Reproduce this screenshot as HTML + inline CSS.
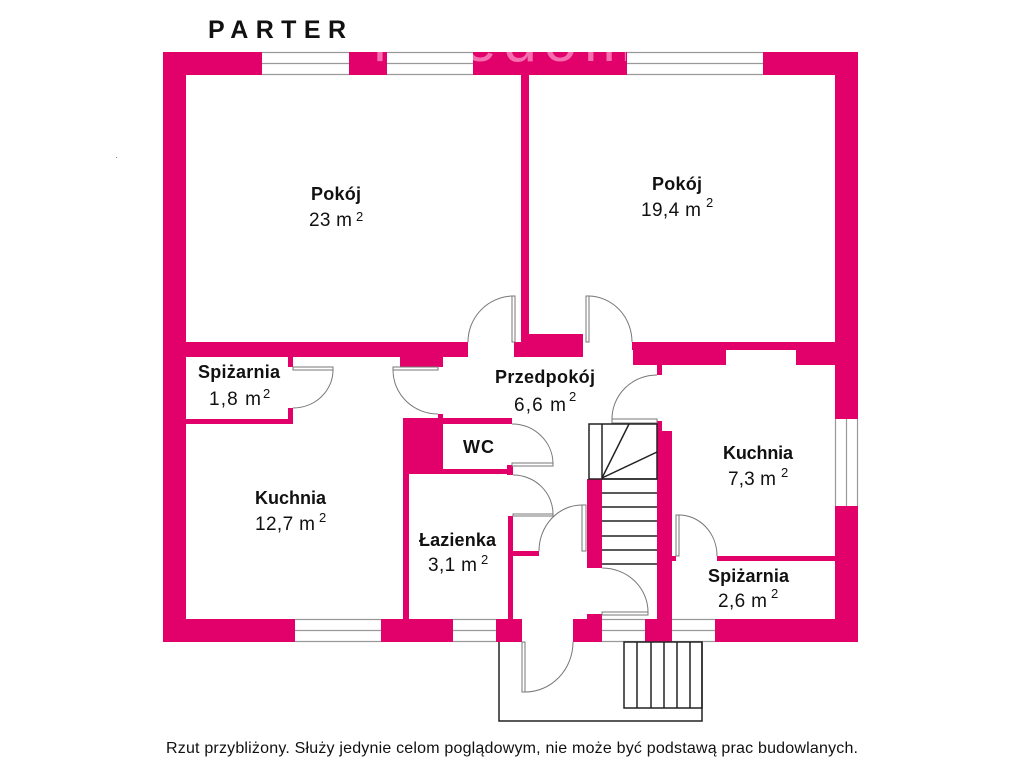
<!DOCTYPE html>
<html><head><meta charset="utf-8"><style>
html,body{margin:0;padding:0;background:#fff}
svg{display:block}
text{font-family:"Liberation Sans",sans-serif;fill:#111}
.b{font-weight:bold;font-size:18px}
.r{font-size:19px}
.s{font-size:13px}
.w rect{fill:#e2006a}
.win{fill:#fff;stroke:none}
.ml{stroke:#999;stroke-width:1.2}
.leaf{fill:#fff;stroke:#777;stroke-width:1}
.arc{fill:none;stroke:#777;stroke-width:1}
.k{stroke:#222;stroke-width:1.5;fill:none}
</style></head><body>
<svg width="1024" height="768" viewBox="0 0 1024 768" xmlns="http://www.w3.org/2000/svg">
<defs><clipPath id="wm"><rect x="349" y="52" width="38" height="22"/><rect x="473" y="52" width="153" height="22"/></clipPath></defs>
<rect width="1024" height="768" fill="#fff"/>
<text x="208" y="38" textLength="138" font-weight="bold" style="font-size:25px">PARTER</text>
<g class="w">
<!-- outer top -->
<rect x="163" y="52" width="99" height="23"/>
<rect x="349" y="52" width="38" height="23"/>
<rect x="473" y="52" width="154" height="23"/>
<rect x="763" y="52" width="95" height="23"/>
<!-- outer sides -->
<rect x="163" y="52" width="23" height="590"/>
<rect x="835" y="52" width="23" height="367"/>
<rect x="835" y="506" width="23" height="136"/>
<!-- outer bottom -->
<rect x="163" y="619" width="132" height="23"/>
<rect x="381" y="619" width="72" height="23"/>
<rect x="496" y="619" width="26" height="23"/>
<rect x="573" y="619" width="29" height="23"/>
<rect x="587" y="614" width="15" height="6"/>
<rect x="645" y="619" width="27" height="23"/>
<rect x="715" y="619" width="143" height="23"/>
<!-- central wall -->
<rect x="521" y="75" width="8" height="268"/>
<rect x="514" y="342" width="69" height="15"/>
<rect x="529" y="334" width="54" height="9"/>
<!-- left horizontal -->
<rect x="163" y="342" width="305" height="15"/>
<rect x="400" y="356" width="43" height="11"/>
<!-- right horizontal -->
<rect x="632" y="342" width="203" height="8"/>
<rect x="633" y="349" width="93" height="16"/>
<rect x="796" y="349" width="39" height="16"/>
<rect x="657" y="365" width="5" height="10"/>
<!-- spizarnia 1 -->
<rect x="288" y="357" width="5" height="10"/>
<rect x="288" y="408" width="5" height="16"/>
<rect x="186" y="419" width="107" height="5"/>
<!-- WC block -->
<rect x="403" y="418" width="40" height="56"/>
<rect x="438" y="414" width="5" height="5"/>
<rect x="443" y="418" width="69" height="6"/>
<rect x="443" y="469" width="69" height="5"/>
<rect x="507" y="465" width="6" height="10"/>
<!-- lazienka -->
<rect x="403" y="473" width="6" height="147"/>
<rect x="508" y="516" width="5" height="104"/>
<rect x="513" y="551" width="26" height="5"/>
<!-- stair walls -->
<rect x="587" y="479" width="15" height="89"/>
<rect x="657" y="421" width="5" height="12"/>
<rect x="657" y="431" width="15" height="188"/>
<!-- spizarnia 2 -->
<rect x="717" y="556" width="118" height="5"/>
<rect x="672" y="556" width="4" height="5"/>
</g>
<text x="372" y="61" clip-path="url(#wm)" style="font-size:60px;fill:#f56fb0" textLength="262">freedom</text>
<!-- windows -->
<g>
<rect class="win" x="262" y="52" width="87" height="23"/><path class="ml" d="M262 52.5H349M262 63.5H349M262 74.5H349"/>
<rect class="win" x="387" y="52" width="86" height="23"/><path class="ml" d="M387 52.5H473M387 63.5H473M387 74.5H473"/>
<rect class="win" x="627" y="52" width="136" height="23"/><path class="ml" d="M627 52.5H763M627 63.5H763M627 74.5H763"/>
<rect class="win" x="835" y="419" width="23" height="87"/><path class="ml" d="M835.5 419V506M846.5 419V506M857.5 419V506"/>
<rect class="win" x="295" y="619" width="86" height="23"/><path class="ml" d="M295 619.5H381M295 630.5H381M295 641.5H381"/>
<rect class="win" x="453" y="619" width="43" height="23"/><path class="ml" d="M453 619.5H496M453 630.5H496M453 641.5H496"/>
<rect class="win" x="602" y="619" width="43" height="23"/><path class="ml" d="M602 619.5H645M602 630.5H645M602 641.5H645"/>
<rect class="win" x="672" y="619" width="43" height="23"/><path class="ml" d="M672 619.5H715M672 630.5H715M672 641.5H715"/>
</g>
<!-- doors -->
<g>
<rect class="leaf" x="512" y="296" width="3" height="46"/><path class="arc" d="M512 296A46 46 0 0 0 468 342"/>
<rect class="leaf" x="586" y="296" width="3" height="46"/><path class="arc" d="M589 296A44 46 0 0 1 632 342"/>
<rect class="leaf" x="293" y="367" width="40" height="3"/><path class="arc" d="M333 370A40 38 0 0 1 293 408"/>
<rect class="leaf" x="393" y="367" width="45" height="3"/><path class="arc" d="M393 370A45 44 0 0 0 438 414"/>
<rect class="leaf" x="612" y="419" width="45" height="4"/><path class="arc" d="M612 419A45 44 0 0 1 657 375"/>
<rect class="leaf" x="512" y="463" width="41" height="3"/><path class="arc" d="M512 424A41 40 0 0 1 553 463"/>
<rect class="leaf" x="513" y="514" width="40" height="2"/><path class="arc" d="M513 475A40 39 0 0 1 553 514"/>
<rect class="leaf" x="582" y="505" width="4" height="46"/><path class="arc" d="M582 505A43 46 0 0 0 539 551"/>
<rect class="leaf" x="602" y="612" width="46" height="3"/><path class="arc" d="M602 568A46 44 0 0 1 648 612"/>
<rect class="leaf" x="676" y="515" width="3" height="41"/><path class="arc" d="M679 515A38 41 0 0 1 717 556"/>
<rect class="leaf" x="522" y="642" width="3" height="50"/><path class="arc" d="M525 692A48 50 0 0 0 573 642"/>
</g>
<!-- interior stairs -->
<g class="k">
<rect x="589" y="424" width="68" height="55"/>
<line x1="602" y1="424" x2="602" y2="479"/>
<line x1="602" y1="478" x2="629" y2="424"/>
<line x1="602" y1="478" x2="657" y2="452"/>
<line x1="602" y1="479" x2="657" y2="479"/>
<line x1="602" y1="493" x2="657" y2="493"/>
<line x1="602" y1="507" x2="657" y2="507"/>
<line x1="602" y1="521" x2="657" y2="521"/>
<line x1="602" y1="536" x2="657" y2="536"/>
<line x1="602" y1="550" x2="657" y2="550"/>
<line x1="602" y1="564" x2="657" y2="564"/>
</g>
<!-- porch -->
<g class="k">
<path d="M499 642V721H702V642"/>
<rect x="624" y="642" width="78" height="66"/>
<line x1="637" y1="642" x2="637" y2="708"/>
<line x1="651" y1="642" x2="651" y2="708"/>
<line x1="664" y1="642" x2="664" y2="708"/>
<line x1="677" y1="642" x2="677" y2="708"/>
<line x1="690" y1="642" x2="690" y2="708"/>
</g>
<!-- labels -->
<text class="b" x="311" y="200" textLength="50">Pokój</text>
<text class="r" x="309" y="226" textLength="43">23 m</text><text class="s" x="356" y="221">2</text>
<text class="b" x="652" y="190" textLength="50">Pokój</text>
<text class="r" x="641" y="216" textLength="60">19,4 m</text><text class="s" x="706" y="207">2</text>
<text class="b" x="198" y="378" textLength="82">Spiżarnia</text>
<text class="r" x="209" y="405" textLength="52">1,8 m</text><text class="s" x="263" y="398">2</text>
<text class="b" x="495" y="383" textLength="100">Przedpokój</text>
<text class="r" x="514" y="411" textLength="52">6,6 m</text><text class="s" x="569" y="401">2</text>
<text class="b" x="463" y="453" textLength="31">WC</text>
<text class="b" x="723" y="459" textLength="70">Kuchnia</text>
<text class="r" x="728" y="485" textLength="48">7,3 m</text><text class="s" x="781" y="477">2</text>
<text class="b" x="255" y="504" textLength="71">Kuchnia</text>
<text class="r" x="255" y="530" textLength="60">12,7 m</text><text class="s" x="319" y="522">2</text>
<text class="b" x="419" y="546" textLength="77">Łazienka</text>
<text class="r" x="428" y="571" textLength="49">3,1 m</text><text class="s" x="481" y="564">2</text>
<text class="b" x="708" y="582" textLength="81">Spiżarnia</text>
<text class="r" x="718" y="607" textLength="49">2,6 m</text><text class="s" x="771" y="598">2</text>
<text x="166" y="753" textLength="692" style="font-size:16px">Rzut przybliżony. Służy jedynie celom poglądowym, nie może być podstawą prac budowlanych.</text>
<rect x="116" y="157" width="1" height="1" fill="#888"/>
</svg>
</body></html>
